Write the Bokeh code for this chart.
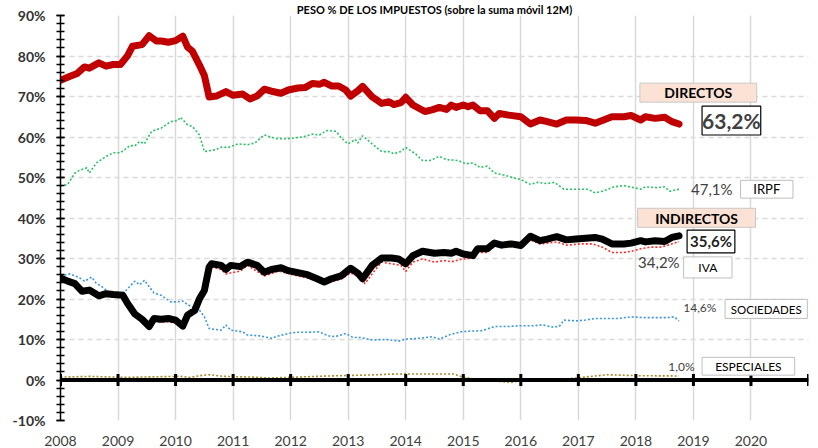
from bokeh.plotting import figure
from bokeh.models import FixedTicker, Span, BoxAnnotation, Label
from bokeh.embed import file_html
from bokeh.resources import INLINE

# ---------------- data (months counted from Jan 2008, values in %) ----------------
mes_directos = [0, 2, 3.5, 5, 6, 8, 9.5, 11, 12.5, 14, 15, 17, 18.5, 20, 21, 22.5, 24, 25.5, 26.5, 27.5,
                29, 30, 31, 32.5, 34.5, 36, 38, 39.5, 41, 42.5, 44, 46, 47.5, 49.5, 51, 52.5, 54, 55, 56.5, 58,
                59.5, 60.5, 62, 63, 65, 67, 68.5, 69.5, 71, 72, 73.5, 76, 77.5, 79, 80.5, 81.5, 82.5, 84, 85, 86,
                87.5, 89, 90.5, 91.5, 93.5, 96, 98, 100, 101.5, 103.5, 105.5, 107.5, 109.5, 111.5, 113, 115,
                117.5, 119, 121, 122, 124, 126, 127.5, 129]
directos = [74.0, 75.0, 75.7, 77.3, 77.0, 78.3, 77.5, 77.9, 77.9, 80.1, 82.4, 82.8, 85.0, 83.7, 83.7, 83.4,
            83.8, 84.9, 82.2, 81.2, 77.7, 75.2, 69.9, 70.1, 71.2, 70.3, 70.6, 69.4, 70.1, 71.8, 71.3, 70.8,
            71.6, 72.1, 72.2, 73.2, 73.0, 73.5, 72.6, 72.6, 71.6, 70.1, 71.4, 72.5, 69.9, 68.3, 68.7, 68.0,
            68.5, 69.8, 67.9, 66.3, 66.7, 67.3, 66.8, 67.9, 67.3, 67.9, 67.5, 67.9, 66.5, 66.5, 64.6, 65.8,
            65.4, 65.0, 63.2, 64.2, 63.8, 63.2, 64.2, 64.2, 64.1, 63.4, 64.1, 65.0, 65.0, 65.3, 64.2, 65.0,
            64.6, 64.9, 63.8, 63.2]

mes_indirectos = [0, 1.5, 3, 4.5, 6, 8, 9.5, 11, 13, 14, 15.5, 17, 18.5, 19.5, 21, 22.5, 24, 25.5, 26.5, 28,
                  29, 30, 31, 31.5, 33.5, 34.5, 35.5, 37.5, 39, 41, 42.5, 44, 46, 47.5, 49.5, 51.5, 53.5, 55,
                  56.5, 58.5, 60.5, 62, 63, 65, 67, 69, 70.5, 72, 73.5, 75.5, 78, 80, 81.5, 82.5, 84, 86, 87,
                  89, 90.5, 92, 94, 96, 98, 100, 101.5, 103.5, 105.5, 107.5, 109.5, 111.5, 113, 115, 117.5,
                  119, 121, 122, 124, 126, 127.5, 129]
indirectos = [25.2, 24.4, 23.8, 21.9, 22.2, 20.8, 21.3, 21.1, 20.9, 18.9, 16.3, 15.0, 13.2, 15.2, 15.0, 15.2,
              14.8, 13.3, 16.0, 17.2, 20.1, 22.1, 27.9, 28.7, 28.3, 27.3, 28.3, 28.0, 29.1, 28.3, 26.6, 27.3,
              27.7, 27.0, 26.5, 26.0, 25.0, 24.2, 25.0, 25.7, 27.6, 26.4, 25.0, 28.3, 30.1, 30.1, 29.9, 28.7,
              30.7, 31.8, 31.3, 31.5, 31.3, 31.8, 31.1, 30.7, 32.4, 32.4, 33.8, 33.3, 33.6, 33.2, 35.5, 34.4,
              34.8, 35.4, 34.6, 34.8, 35.0, 35.2, 34.8, 33.6, 33.6, 33.8, 34.4, 34.1, 34.4, 34.2, 35.2, 35.6]

mes_irpf = [0, 1.5, 3, 4, 5.5, 6, 7.5, 9.5, 11, 12.5, 14.5, 15.5, 16.5, 17.5, 19, 21, 23, 24.5, 25, 26.5,
            27.5, 29, 30, 32.5, 33.5, 35, 37, 39, 40.5, 42.5, 45, 47.5, 50.5, 52.5, 54, 55.5, 57.5, 58.5, 60,
            61.5, 62, 63, 65, 67, 68.5, 69.5, 71, 72, 74, 75.5, 77, 79, 80.5, 83, 84.5, 86, 87.5, 89, 90.5,
            92.5, 94.5, 96, 98, 99.5, 101.5, 103, 105, 107.5, 110, 111.5, 113, 115.5, 117.5, 119.5, 121, 122,
            124.5, 126, 127, 129]
irpf = [47.9, 48.3, 51.1, 51.8, 52.4, 51.1, 53.6, 55.2, 56.1, 56.1, 57.9, 57.8, 58.9, 58.3, 61.4, 62.2, 63.8,
        64.1, 64.9, 63.0, 62.6, 60.5, 56.4, 56.9, 57.5, 57.4, 58.3, 58.1, 58.5, 60.5, 59.6, 59.6, 60.0, 60.7,
        60.5, 61.6, 61.4, 59.8, 58.3, 59.4, 58.5, 60.3, 58.3, 56.4, 56.4, 55.9, 56.4, 57.4, 55.9, 54.2, 54.2,
        55.2, 54.4, 54.2, 53.4, 53.6, 52.5, 52.8, 51.1, 50.6, 49.9, 49.5, 48.3, 48.8, 48.5, 48.8, 47.1, 47.1,
        47.1, 46.2, 46.6, 47.7, 48.0, 47.5, 47.1, 47.7, 47.5, 47.7, 46.6, 47.1]

mes_iva = [0, 3, 4.5, 6, 8, 9.5, 11, 13, 14, 15.5, 17, 18.5, 19.5, 21, 22.5, 24, 25.5, 26.5, 28, 29, 30, 31,
           31.5, 33.5, 34.5, 37.5, 39, 42.5, 45.5, 49.5, 53.5, 55, 58.5, 60.5, 62, 63.5, 65.5, 67, 69, 71, 72,
           73.5, 75.5, 78, 80, 81.5, 84, 86, 87, 89, 90.5, 93, 96, 98, 100, 103.5, 105.5, 108.5, 111, 113, 115,
           117.5, 119.5, 121, 123, 125, 126.5, 129]
iva = [24.6, 23.2, 21.4, 21.6, 20.2, 20.9, 20.6, 20.4, 18.4, 15.7, 14.5, 12.6, 14.5, 14.3, 14.4, 14.0, 12.7,
       15.4, 16.8, 19.6, 21.6, 27.3, 27.9, 27.3, 26.2, 26.9, 28.3, 25.7, 26.9, 25.7, 24.7, 23.8, 24.9, 26.4,
       25.6, 23.8, 27.0, 29.1, 28.7, 28.3, 26.8, 29.1, 29.9, 29.1, 29.5, 29.2, 29.9, 30.1, 31.5, 31.5, 33.3,
       33.0, 32.8, 34.6, 33.6, 34.1, 33.3, 33.6, 33.6, 32.8, 31.5, 31.5, 31.9, 32.4, 32.8, 32.8, 33.2, 34.2]

mes_sociedades = [0, 2, 4, 5, 6.5, 7.5, 8.5, 10, 12, 13.5, 15.5, 16.5, 17.5, 19.5, 21, 23, 24.5, 25.5, 26.5,
                  29, 30, 31, 33.5, 34.5, 35.5, 38, 39, 41.5, 44, 45.5, 47.5, 49.5, 51.5, 54, 55, 56.5, 58,
                  59.5, 61, 62.5, 65, 68, 70.5, 72, 75, 77.5, 79, 81, 83.5, 86, 88, 90.5, 93, 96, 98.5, 100.5,
                  102.5, 104, 105, 107.5, 109.5, 111.5, 114, 116.5, 119, 121.5, 124.5, 126.5, 128, 129]
sociedades = [25.7, 26.2, 25.2, 24.4, 25.4, 23.8, 23.2, 21.7, 20.9, 21.9, 24.4, 23.5, 24.6, 21.5, 20.9, 19.3,
              19.3, 19.5, 18.6, 17.2, 15.6, 12.7, 12.3, 13.6, 12.3, 11.9, 11.1, 10.9, 10.3, 10.9, 11.5, 11.8,
              11.8, 11.9, 11.3, 10.7, 10.9, 11.5, 10.5, 10.5, 9.9, 10.0, 9.6, 10.1, 10.3, 10.7, 10.1, 11.1,
              11.9, 12.1, 12.2, 13.2, 13.2, 13.4, 13.4, 13.6, 13.1, 13.2, 14.8, 14.6, 14.8, 15.2, 15.2, 15.2,
              15.6, 15.4, 15.4, 15.4, 15.6, 14.6]

mes_especiales = [0, 6, 13, 25, 27, 29.5, 31, 34, 40.5, 43.5, 47.5, 56, 61.5, 66, 70.5, 82, 84, 87.5, 94, 96,
                  106, 114, 121, 129]
especiales = [0.7, 0.9, 0.65, 0.9, 0.65, 1.15, 1.3, 0.9, 0.7, 0.5, 0.65, 1.0, 1.15, 1.3, 1.5, 1.5, 0.65, 0.1,
              -0.6, -0.1, 0.3, 1.3, 1.05, 1.0]

anios = list(range(2008, 2022))
etiquetas_anio = {a: (str(a) if a <= 2020 else "") for a in anios}
ticks_y = list(range(-10, 91, 10))
ticks_y_menores = list(range(-10, 91, 2))
titulo = "PESO % DE LOS IMPUESTOS (sobre la suma móvil 12M)"

FONT = "Lato"


def a_anio(meses):
    return [2008 + m / 12.0 for m in meses]


def pct(v):
    return f"{v:.1f}".replace(".", ",") + "%"


p = figure(width=818, height=448, x_range=(2008, 2021), y_range=(-10, 90),
           output_backend="svg", toolbar_location=None,
           min_border_left=60, min_border_right=10, min_border_top=15, min_border_bottom=25)
p.outline_line_color = None
p.background_fill_color = "white"

# title in the thin strip above the plot
p.title.text = titulo
p.title.align = "center"
p.title.text_font = FONT
p.title.text_font_size = "11px"
p.title.text_font_style = "bold"
p.title.text_color = "black"
p.title.standoff = 0
p.title.offset = 0

# grids
p.xgrid.grid_line_color = "#D9D9D9"
p.xgrid.grid_line_width = 1.5
p.ygrid.grid_line_color = "#D9D9D9"
p.ygrid.grid_line_width = 1.5
p.ygrid.grid_line_dash = "5 4"

# y axis
p.yaxis.ticker = FixedTicker(ticks=ticks_y, minor_ticks=ticks_y_menores)
p.yaxis.major_label_overrides = {t: f"{t}%" for t in ticks_y}
p.yaxis.major_label_text_font = FONT
p.yaxis.major_label_text_font_style = "bold"
p.yaxis.major_label_text_font_size = "14px"
p.yaxis.major_label_text_color = "#333333"
p.yaxis.major_label_standoff = 11
p.yaxis.axis_line_color = "black"
p.yaxis.axis_line_width = 1.5
p.yaxis.major_tick_in = 4
p.yaxis.major_tick_out = 4
p.yaxis.minor_tick_in = 4
p.yaxis.minor_tick_out = 4
p.yaxis.major_tick_line_width = 1.5
p.yaxis.minor_tick_line_width = 1.5
p.yaxis.major_tick_line_color = "black"
p.yaxis.minor_tick_line_color = "black"

# x axis (labels only, at bottom)
p.xaxis.ticker = FixedTicker(ticks=anios, minor_ticks=[])
p.xaxis.major_label_overrides = etiquetas_anio
p.xaxis.axis_line_color = None
p.xaxis.major_tick_line_color = None
p.xaxis.minor_tick_line_color = None
p.xaxis.major_label_standoff = 9
p.xaxis.major_label_text_font = FONT
p.xaxis.major_label_text_font_size = "14px"
p.xaxis.major_label_text_color = "#404040"

# series
p.line(a_anio(mes_irpf), irpf, line_color="#27C266", line_width=1.6, line_dash="2 2")
p.line(a_anio(mes_sociedades), sociedades, line_color="#3A98DA", line_width=1.6, line_dash="2 2")
p.line(a_anio(mes_especiales), especiales, line_color="#A88A2A", line_width=1.6, line_dash="2 2")
p.line(a_anio(mes_iva), iva, line_color="#FF2A2A", line_width=1.6, line_dash="2 2")
p.line(a_anio(mes_directos), directos, line_color="#C00000", line_width=7, line_join="round", line_cap="round")
p.line(a_anio(mes_indirectos), indirectos, line_color="black", line_width=7, line_join="round", line_cap="round")

# zero axis line with year ticks
p.add_layout(Span(location=0, dimension="width", line_color="black", line_width=4))
p.rect(x=anios, y=[0] * len(anios), width=3, height=12, width_units="screen", height_units="screen",
       fill_color="black", line_color=None)


def caja(left, right, bottom, top, fill="white", line="#BFBFBF", lw=1):
    p.add_layout(BoxAnnotation(left=left, right=right, bottom=bottom, top=top,
                               fill_color=fill, fill_alpha=1, line_color=line, line_width=lw,
                               line_alpha=1))


def texto(x, y, t, size="13px", bold=False, color="black", align="center"):
    p.add_layout(Label(x=x, y=y, text=t, text_align=align, text_baseline="middle",
                       text_font=FONT, text_font_size=size,
                       text_font_style="bold" if bold else "normal", text_color=color))


# DIRECTOS
caja(2018.07, 2020.10, 68.6, 73.3, fill="#FBE2D5", line="#C8C8C8")
texto(2019.085, 71.0, "DIRECTOS", size="14px", bold=True)
caja(2019.15, 2020.17, 60.5, 67.6, fill="white", line="black", lw=1.2)
texto(2019.66, 64.0, pct(directos[-1]), size="21px", bold=True, color="#404040")
# IRPF
texto(2019.68, 47.1, pct(irpf[-1]), size="15px", color="#404040", align="right")
caja(2019.82, 2020.73, 44.9, 49.3)
texto(2020.275, 47.1, "IRPF", size="13px")
# INDIRECTOS
caja(2018.03, 2020.08, 37.7, 42.4, fill="#FBE2D5", line="#C8C8C8")
texto(2019.055, 40.0, "INDIRECTOS", size="14px", bold=True)
caja(2018.89, 2019.72, 31.4, 37.0, fill="white", line="black", lw=1.2)
texto(2019.305, 34.2, pct(indirectos[-1]), size="15px", bold=True, color="#222222")
# IVA
texto(2018.76, 29.2, pct(iva[-1]), size="15px", color="#404040", align="right")
caja(2018.83, 2019.67, 25.2, 30.4)
texto(2019.25, 27.8, "IVA", size="12px")
# SOCIEDADES
texto(2019.40, 17.9, pct(sociedades[-1]), size="12px", color="#404040", align="right")
caja(2019.55, 2020.98, 15.2, 19.9)
texto(2020.265, 17.5, "SOCIEDADES", size="11.5px")
# ESPECIALES
texto(2019.02, 3.4, pct(especiales[-1]), size="12px", color="#404040", align="right")
caja(2019.15, 2020.76, 1.2, 5.6)
texto(2019.955, 3.4, "ESPECIALES", size="12px")

open("out.html", "w").write(file_html(p, INLINE))
